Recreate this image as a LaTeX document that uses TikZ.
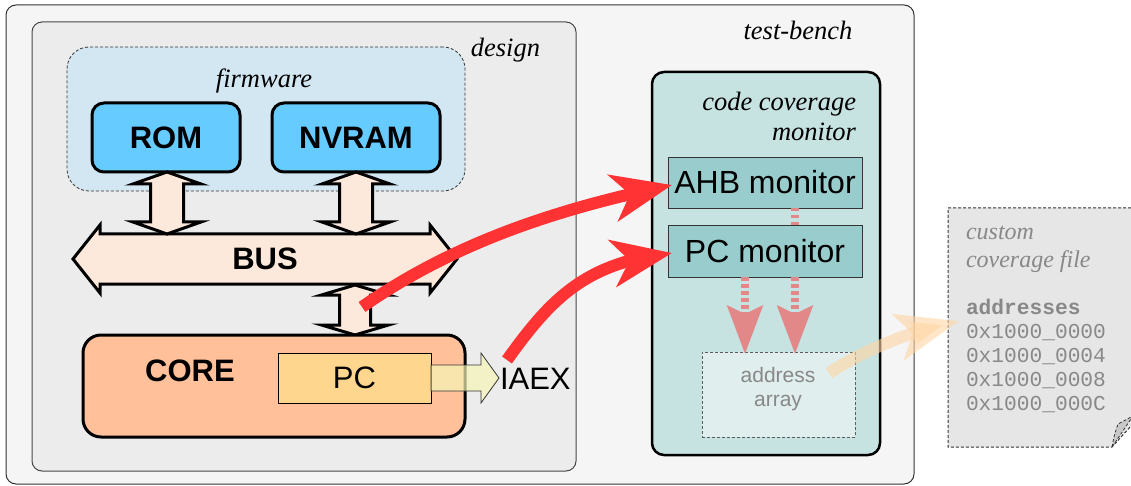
\documentclass[tikz,border=0pt]{standalone}
\usepackage{fontspec}
\setmainfont{Liberation Serif}
\setsansfont{Liberation Sans}
\setmonofont{Liberation Mono}
\usetikzlibrary{arrows.meta,bending}

\definecolor{benchfill}{HTML}{F5F5F5}
\definecolor{designfill}{HTML}{ECECEC}
\definecolor{fwfill}{HTML}{D3E7F2}
\definecolor{memfill}{HTML}{66CCFF}
\definecolor{busfill}{HTML}{FDE9DB}
\definecolor{corefill}{HTML}{FFC09A}
\definecolor{pcfill}{HTML}{FFD68E}
\definecolor{iaexfill}{RGB}{246,245,182}
\definecolor{monfill}{HTML}{C6E2E1}
\definecolor{subfill}{HTML}{99CCCC}
\definecolor{arrfill}{HTML}{E0EEED}
\definecolor{pinkcol}{HTML}{E38888}
\definecolor{redcol}{HTML}{FF3333}
\definecolor{orangecol}{RGB}{255,213,163}
\definecolor{filefill}{HTML}{E6E6E6}
\definecolor{curlfill}{HTML}{C8C8C8}
\definecolor{graytext}{HTML}{888888}
\definecolor{framecol}{HTML}{333333}

% vertical two-headed link: centre x, top tip y, bottom tip y, head length,
% half head width, half shaft width
\newcommand\vlinkarrow[6]{%
  \draw[busarrow] (#1,#2) -- ({#1+#5},{#2+#4}) -- ({#1+#6},{#2+#4})
    -- ({#1+#6},{#3-#4}) -- ({#1+#5},{#3-#4}) -- (#1,#3)
    -- ({#1-#5},{#3-#4}) -- ({#1-#6},{#3-#4}) -- ({#1-#6},{#2+#4})
    -- ({#1-#5},{#2+#4}) -- cycle;}

\begin{document}
\begin{tikzpicture}[x=1pt,y=-1pt,
  every node/.style={inner sep=0pt, outer sep=0pt},
  region/.style={draw=framecol, line width=1pt, rounded corners=10pt},
  tag/.style={font=\itshape\fontsize{26.5}{30}\selectfont},
  membox/.style={draw=black, line width=3pt, fill=memfill, rounded corners=12pt,
    font=\sffamily\bfseries\fontsize{31}{36}\selectfont},
  busarrow/.style={draw=black, line width=3pt, fill=busfill, line join=miter},
  submon/.style={draw=framecol, line width=0.8pt, fill=subfill,
    minimum width=194pt, font=\sffamily\fontsize{32}{38}\selectfont},
  pinkarrow/.style={draw=pinkcol, line width=8pt, dash pattern=on 3.5pt off 3.5pt},
  pinkhead/.style={pinkarrow, -{Stealth[length=48pt,width=35pt,inset=8pt]}},
  redarrow/.style={draw=redcol, line width=12pt,
    -{Stealth[length=60pt,width=47pt,inset=17pt]}},
  filetxt/.style={anchor=base west, text=graytext},
  monotxt/.style={filetxt, font=\ttfamily\fontsize{21.2}{24}\selectfont},
]
\useasboundingbox (0,0) rectangle (1131,486);

% enclosing regions
\node[region, fill=benchfill, minimum width=908pt, minimum height=479pt] (bench) at (460,244.5) {};
\node[tag, anchor=base] (benchlbl) at (798,40) {test-bench};

\node[region, draw=framecol!90, fill=designfill, minimum width=544pt, minimum height=449pt] (design) at (304,246.5) {};
\node[tag, anchor=base east] (designlbl) at (540,57) {design};

\node[draw=framecol, line width=0.8pt, dash pattern=on 3pt off 2pt, fill=fwfill,
      rounded corners=22pt, minimum width=398pt, minimum height=144pt] (fw) at (266,119) {};
\node[tag, anchor=base] (fwlbl) at (264,88) {firmware};

% memories
\node[membox, minimum width=148pt, minimum height=69pt] (rom) at (166,137.5) {ROM};
\node[membox, minimum width=168pt, minimum height=69pt] (nvram) at (356,137.5) {NVRAM};

% bus and its links
\draw[busarrow] (73,259) -- (100,225) -- (100,234) -- (430,234) -- (430,225)
  -- (457,259) -- (430,293) -- (430,284) -- (100,284) -- (100,293) -- cycle;
\node[font=\sffamily\bfseries\fontsize{31}{36}\selectfont] (bus) at (265,259) {BUS};
\vlinkarrow{167}{172}{234}{12}{34}{16.5}
\vlinkarrow{356}{172}{234}{12}{34}{16.5}
\vlinkarrow{355}{285}{335}{10}{33.5}{15.5}

% core
\node[draw=black, line width=3pt, fill=corefill, rounded corners=18pt,
      minimum width=382pt, minimum height=102pt] (core) at (274,386) {};
\node[font=\sffamily\bfseries\fontsize{31}{36}\selectfont] (corelbl) at (190,371) {CORE};
\node[draw=black, line width=0.8pt, fill=pcfill, minimum width=153pt, minimum height=50pt,
      font=\sffamily\fontsize{31}{36}\selectfont] (pc) at (354.5,378) {PC};
\draw[draw=framecol, line width=0.8pt, fill=iaexfill, fill opacity=0.7]
  (pc.east) ++(0,-13) -- (481,365) -- (481,353) -- (499,378) -- (481,403)
  -- (481,391) -- ([yshift=-13pt]pc.east) -- cycle;
\node[anchor=west, font=\sffamily\fontsize{31}{36}\selectfont] (iaex) at (500,379) {IAEX};

% code coverage monitor
\node[draw=black, line width=2.5pt, fill=monfill, rounded corners=12pt,
      minimum width=228pt, minimum height=383pt] (mon) at (766,263.5) {};
\node[tag, anchor=east, align=right] (monlbl) at (856,116) {code coverage\\monitor};
\node[submon, minimum height=51pt] (ahb) at (765,182.5) {AHB monitor};
\node[submon, minimum height=52pt] (pcmon) at (765,251) {PC monitor};
\node[draw=framecol!80, line width=0.8pt, dash pattern=on 3pt off 2pt, fill=arrfill,
      minimum width=153pt, minimum height=85pt] (addr) at (778.5,394.5) {};
\node[align=center, text=graytext, font=\sffamily\fontsize{21}{24}\selectfont] (addrlbl)
      at (778,389.5) {address\\array};

\draw[pinkarrow] ([xshift=30pt]ahb.south) -- ([xshift=30pt]pcmon.north);
\draw[pinkhead] ([xshift=-20pt]pcmon.south) -- ([xshift=-33.5pt,yshift=-2pt]addr.north);
\draw[pinkhead] ([xshift=30pt]pcmon.south) -- ([xshift=16.5pt,yshift=-2pt]addr.north);

% coverage file
\draw[draw=framecol, line width=1pt, dash pattern=on 3pt off 2pt, fill=filefill]
  (948,208) -- (1140,208) -- (1140,416) -- (1112,447) -- (948,447) -- cycle;
\draw[draw=framecol, line width=0.8pt, dash pattern=on 3pt off 2pt, fill=curlfill]
  (1112,447) .. controls (1114,436) .. (1118,424) -- (1133,416) -- cycle;
\coordinate (filein) at (959,321);
\node[filetxt, font=\itshape\fontsize{24}{28}\selectfont] (f1) at (966,240) {custom};
\node[filetxt, font=\itshape\fontsize{24}{28}\selectfont] (f2) at (966,267) {coverage file};
\node[monotxt, font=\ttfamily\bfseries\fontsize{21.2}{24}\selectfont] (f3) at (966,314) {addresses};
\node[monotxt] (f4) at (966,338) {0x1000\_0000};
\node[monotxt] (f5) at (966,362) {0x1000\_0004};
\node[monotxt] (f6) at (966,386) {0x1000\_0008};
\node[monotxt] (f7) at (966,410) {0x1000\_000C};

% dump of the address array into the file
\coordinate (dumpstart) at (829,373);
\draw[draw=orangecol, opacity=0.6, line width=12pt,
      -{Stealth[length=62pt,width=46pt,inset=14pt]}]
  (dumpstart) .. controls (855,356) and (900,333) .. (filein);

% probes from the design into the monitors
\coordinate (busprobe) at (362,307);
\coordinate (iaexprobe) at (507,360);
\draw[redarrow] (busprobe) .. controls (455,242) and (560,208) .. ([xshift=4pt,yshift=-2.5pt]ahb.west);
\draw[redarrow] (iaexprobe) .. controls (550,300) and (585,262) .. ([xshift=4pt,yshift=-2pt]pcmon.west);
\end{tikzpicture}
\end{document}
